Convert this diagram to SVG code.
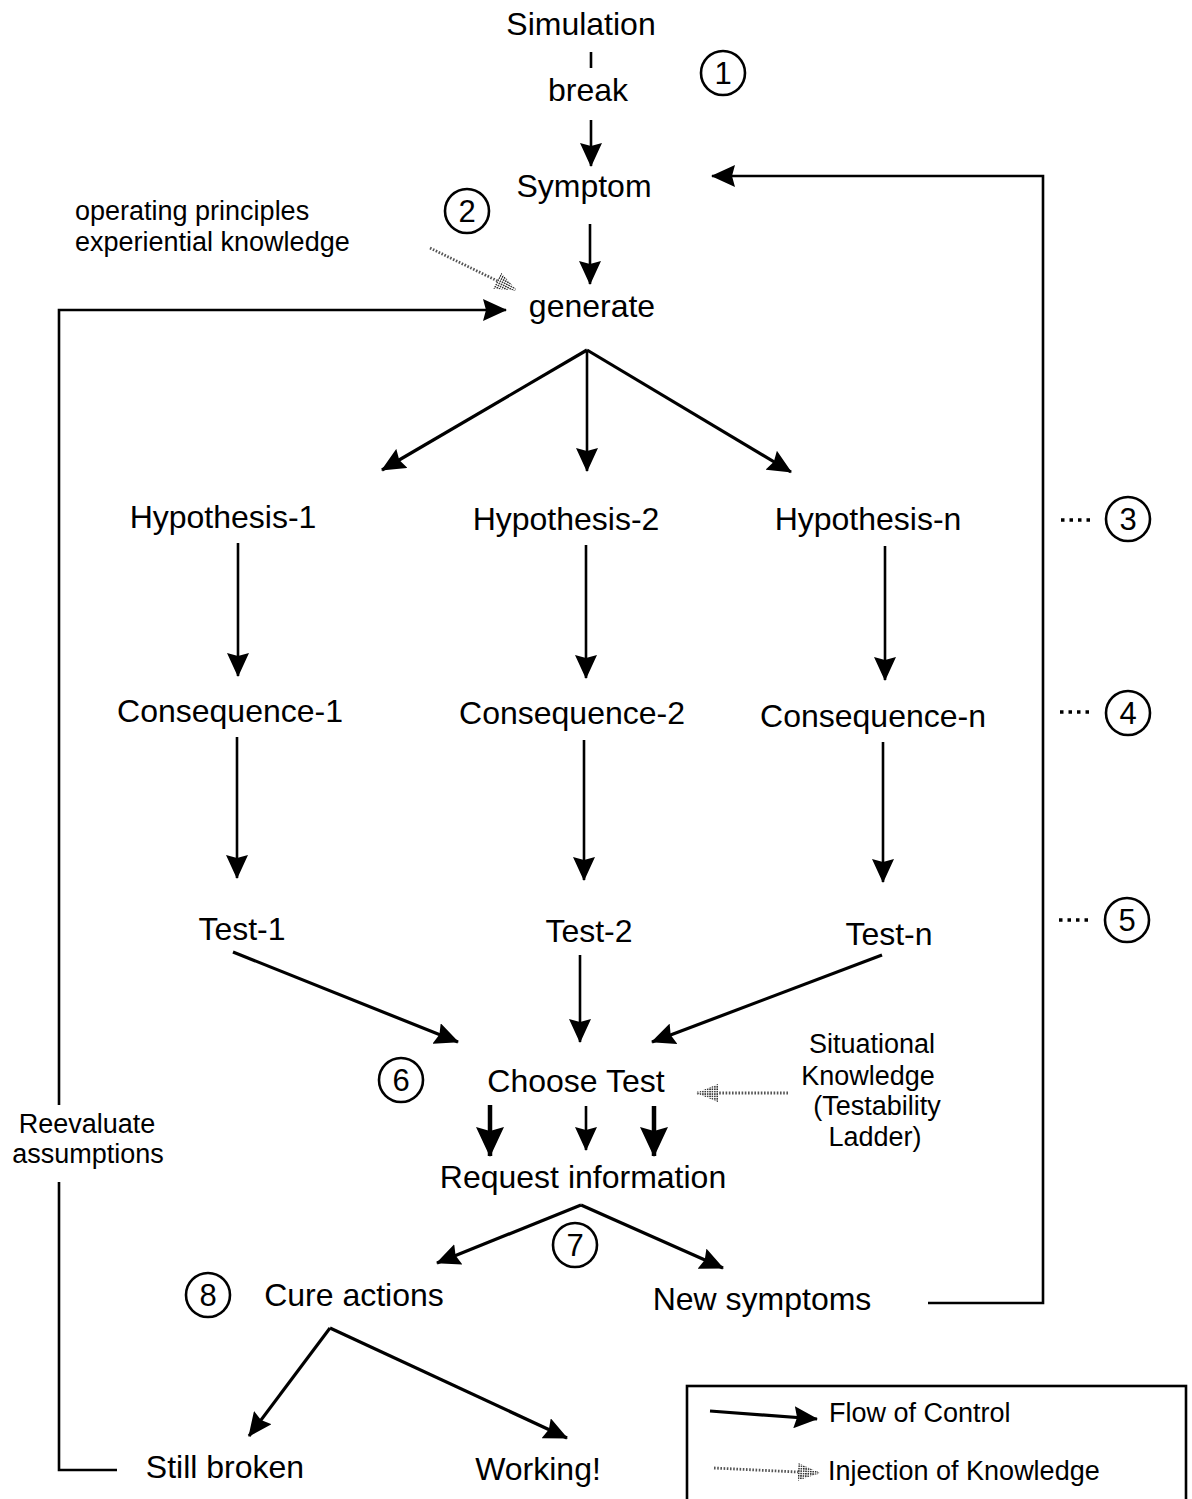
<svg xmlns="http://www.w3.org/2000/svg" width="1192" height="1499" viewBox="0 0 1192 1499">
  <defs>
    <style>
      .lbl { font-family: "Liberation Sans", Arial, Helvetica, sans-serif; fill: #000; }
      .big { font-size: 32px; text-anchor: middle; }
      .small { font-size: 27px; }
      .num { font-size: 31px; text-anchor: middle; }
      .flow { stroke: #000; stroke-width: 3.2; fill: none; marker-end: url(#head); }
      .flowThin { stroke: #000; stroke-width: 2.6; fill: none; marker-end: url(#head); }
      .loop { stroke: #000; stroke-width: 2.6; fill: none; }
      .inject { stroke: #555; stroke-width: 2.8; stroke-dasharray: 1.6 1.6; fill: none; marker-end: url(#ihead); }
      .ring { stroke: #000; stroke-width: 2.6; fill: #fff; }
      .dots { stroke: #000; stroke-width: 3.5; stroke-dasharray: 3.5 5; }
    </style>
    <!-- solid arrowhead for flow of control -->
    <marker id="head" viewBox="0 0 24 22" refX="23" refY="11" markerWidth="24" markerHeight="22" markerUnits="userSpaceOnUse" orient="auto">
      <path d="M0,0 L24,11 L0,22 L3,11 Z" fill="#000"/>
    </marker>
    <marker id="headBig" viewBox="0 0 30 28" refX="29" refY="14" markerWidth="30" markerHeight="28" markerUnits="userSpaceOnUse" orient="auto">
      <path d="M0,0 L30,14 L0,28 L4,14 Z" fill="#000"/>
    </marker>
    <!-- stippled texture for knowledge injection heads -->
    <pattern id="stipple" width="2.4" height="2.4" patternUnits="userSpaceOnUse">
      <rect width="2.4" height="2.4" fill="#fff"/>
      <rect width="1.5" height="1.5" fill="#222"/>
    </pattern>
    <marker id="ihead" viewBox="0 0 22 18" refX="21" refY="9" markerWidth="22" markerHeight="18" markerUnits="userSpaceOnUse" orient="auto">
      <path d="M0,0 L22,9 L0,18 Z" fill="url(#stipple)"/>
    </marker>
  </defs>

  <rect width="1192" height="1499" fill="#fff"/>

  <!-- connectors -->
  <g id="connectors">
    <line x1="591" y1="52" x2="591" y2="68" stroke="#000" stroke-width="2.6"/>
    <line class="flowThin" x1="591" y1="120" x2="591" y2="166"/>
    <line class="flowThin" x1="590" y1="224" x2="590" y2="284"/>

    <!-- generate fan-out -->
    <line class="flow" x1="587" y1="350" x2="382" y2="470"/>
    <line class="flowThin" x1="587" y1="350" x2="587" y2="471"/>
    <line class="flow" x1="587" y1="350" x2="791" y2="472"/>

    <!-- hypothesis to consequence -->
    <line class="flowThin" x1="238" y1="543" x2="238" y2="676"/>
    <line class="flowThin" x1="586" y1="545" x2="586" y2="678"/>
    <line class="flowThin" x1="885" y1="546" x2="885" y2="680"/>

    <!-- consequence to test -->
    <line class="flowThin" x1="237" y1="737" x2="237" y2="878"/>
    <line class="flowThin" x1="584" y1="740" x2="584" y2="880"/>
    <line class="flowThin" x1="883" y1="742" x2="883" y2="882"/>

    <!-- tests to Choose Test -->
    <line class="flow" x1="233" y1="952" x2="458" y2="1042"/>
    <line class="flowThin" x1="580" y1="955" x2="580" y2="1042"/>
    <line class="flow" x1="882" y1="955" x2="652" y2="1042"/>

    <!-- Choose Test to Request information -->
    <line x1="490" y1="1105" x2="490" y2="1156" stroke="#000" stroke-width="4.5" marker-end="url(#headBig)"/>
    <line class="flowThin" x1="586" y1="1106" x2="586" y2="1150"/>
    <line x1="654" y1="1106" x2="654" y2="1156" stroke="#000" stroke-width="4.5" marker-end="url(#headBig)"/>

    <!-- Request information fan-out -->
    <line class="flow" x1="581" y1="1205" x2="437" y2="1263"/>
    <line class="flow" x1="581" y1="1205" x2="723" y2="1268"/>

    <!-- Cure actions fan-out -->
    <line class="flow" x1="330" y1="1328" x2="249" y2="1436"/>
    <line class="flow" x1="330" y1="1328" x2="567" y2="1438"/>

    <!-- reevaluate loop back to generate -->
    <polyline class="loop" points="117,1470 59,1470 59,1182"/>
    <polyline class="flowThin" points="59,1105 59,310 506,310"/>

    <!-- new symptoms loop back to Symptom -->
    <polyline class="flowThin" points="928,1303 1043,1303 1043,176 712,176"/>

    <!-- knowledge injections -->
    <line class="inject" x1="430" y1="248" x2="516" y2="290"/>
    <line class="inject" x1="788" y1="1093" x2="697" y2="1093"/>
  </g>

  <!-- nodes -->
  <g id="simulation-break">
    <text class="lbl big" x="581" y="35">Simulation</text>
    <text class="lbl big" x="588" y="101">break</text>
  </g>
  <g id="step-1"><circle class="ring" cx="723" cy="73" r="22"/><text class="lbl num" x="723" y="84">1</text></g>
  <g id="symptom"><text class="lbl big" x="584" y="197">Symptom</text></g>
  <g id="step-2"><circle class="ring" cx="467" cy="211" r="22"/><text class="lbl num" x="467" y="222">2</text></g>
  <g id="principles">
    <text class="lbl small" x="75" y="220">operating principles</text>
    <text class="lbl small" x="75" y="251">experiential knowledge</text>
  </g>
  <g id="generate"><text class="lbl big" x="592" y="317">generate</text></g>

  <g id="hypothesis-1"><text class="lbl big" x="223" y="528">Hypothesis-1</text></g>
  <g id="hypothesis-2"><text class="lbl big" x="566" y="530">Hypothesis-2</text></g>
  <g id="hypothesis-n"><text class="lbl big" x="868" y="530">Hypothesis-n</text></g>
  <g id="step-3">
    <line class="dots" x1="1061" y1="520" x2="1090" y2="520"/>
    <circle class="ring" cx="1128" cy="519" r="22"/><text class="lbl num" x="1128" y="530">3</text>
  </g>

  <g id="consequence-1"><text class="lbl big" x="230" y="722">Consequence-1</text></g>
  <g id="consequence-2"><text class="lbl big" x="572" y="724">Consequence-2</text></g>
  <g id="consequence-n"><text class="lbl big" x="873" y="727">Consequence-n</text></g>
  <g id="step-4">
    <line class="dots" x1="1060" y1="712" x2="1089" y2="712"/>
    <circle class="ring" cx="1128" cy="713" r="22"/><text class="lbl num" x="1128" y="724">4</text>
  </g>

  <g id="test-1"><text class="lbl big" x="242" y="940">Test-1</text></g>
  <g id="test-2"><text class="lbl big" x="589" y="942">Test-2</text></g>
  <g id="test-n"><text class="lbl big" x="889" y="945">Test-n</text></g>
  <g id="step-5">
    <line class="dots" x1="1059" y1="920" x2="1088" y2="920"/>
    <circle class="ring" cx="1127" cy="920" r="22"/><text class="lbl num" x="1127" y="931">5</text>
  </g>

  <g id="step-6"><circle class="ring" cx="401" cy="1080" r="22"/><text class="lbl num" x="401" y="1091">6</text></g>
  <g id="choose-test"><text class="lbl big" x="576" y="1092">Choose Test</text></g>
  <g id="situational-knowledge">
    <text class="lbl small" x="872" y="1053" text-anchor="middle">Situational</text>
    <text class="lbl small" x="868" y="1085" text-anchor="middle">Knowledge</text>
    <text class="lbl small" x="877" y="1115" text-anchor="middle">(Testability</text>
    <text class="lbl small" x="875" y="1146" text-anchor="middle">Ladder)</text>
  </g>
  <g id="request-information"><text class="lbl big" x="583" y="1188">Request information</text></g>

  <g id="step-7"><circle class="ring" cx="575" cy="1245" r="22"/><text class="lbl num" x="575" y="1256">7</text></g>
  <g id="step-8"><circle class="ring" cx="208" cy="1295" r="22"/><text class="lbl num" x="208" y="1306">8</text></g>
  <g id="cure-actions"><text class="lbl big" x="354" y="1306">Cure actions</text></g>
  <g id="new-symptoms"><text class="lbl big" x="762" y="1310">New symptoms</text></g>

  <g id="reevaluate">
    <text class="lbl small" x="87" y="1133" text-anchor="middle">Reevaluate</text>
    <text class="lbl small" x="88" y="1163" text-anchor="middle">assumptions</text>
  </g>
  <g id="still-broken"><text class="lbl big" x="225" y="1478">Still broken</text></g>
  <g id="working"><text class="lbl big" x="538" y="1480">Working!</text></g>

  <!-- key -->
  <g id="legend">
    <rect x="687" y="1386" width="499" height="130" fill="none" stroke="#000" stroke-width="2.6"/>
    <line class="flow" x1="710" y1="1411" x2="817" y2="1419"/>
    <text class="lbl small" x="829" y="1422">Flow of Control</text>
    <line class="inject" x1="714" y1="1468" x2="819" y2="1473"/>
    <text class="lbl small" x="828" y="1480">Injection of Knowledge</text>
  </g>
</svg>
